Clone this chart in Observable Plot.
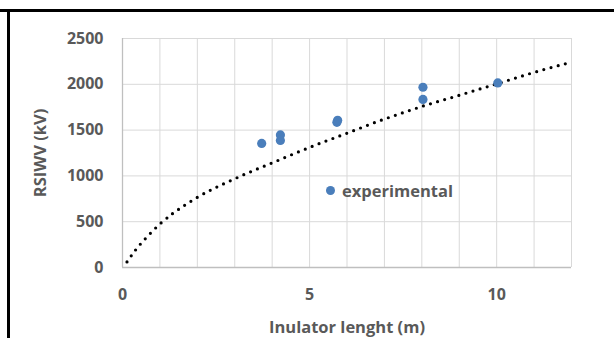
<!DOCTYPE html>
<html><head><meta charset="utf-8">
<script src="https://cdn.jsdelivr.net/npm/d3@7"></script>
<script src="https://cdn.jsdelivr.net/npm/@observablehq/plot@0.6"></script>
<style>
body{margin:0;background:#fff;}
#wrap{position:relative;width:614px;height:338px;overflow:hidden;font-family:"Open Sans",sans-serif;}
.hline{position:absolute;left:0;top:9px;width:614px;height:3px;background:#000;}
.vline{position:absolute;left:7px;top:9px;width:3px;height:329px;background:#000;}
#legend{position:absolute;left:326px;top:179px;height:22px;display:flex;align-items:center;gap:7px;font-weight:bold;font-size:16.5px;color:#595959;white-space:nowrap;}
#legend .mk{width:9px;height:9px;border-radius:50%;background:#4a7ebb;}
svg{position:absolute;left:0;top:0;}
</style></head>
<body>
<div id="wrap"><div class="hline"></div><div class="vline"></div></div>
<script>
// experimental points
const expX = [3.72, 4.22, 4.22, 5.73, 5.75, 8.03, 8.03, 10.03];
const expY = [1355, 1447, 1387, 1585, 1607, 1968, 1835, 2015];
// fitted (dotted) curve
const fitX = [0.12, 0.3, 0.5, 0.75, 1.0, 1.25, 1.5, 2.0, 2.5, 3.0, 3.5, 4.0, 4.5, 5.0, 5.5, 6.0, 6.5, 7.0, 7.5, 8.0, 8.5, 9.0, 9.5, 10.0, 10.5, 11.0, 11.5, 11.9];
const fitY = [61, 165, 265, 375, 475, 560, 635, 766, 874, 969, 1058, 1142, 1228, 1311, 1390, 1466, 1545, 1620, 1690, 1758, 1820, 1880, 1943, 2004, 2068, 2130, 2188, 2230];
const xGridTicks = [0,1,2,3,4,5,6,7,8,9,10,11,12];
const xTickLabels = [0, 5, 10];
const yTicks = [0, 500, 1000, 1500, 2000, 2500];
const xLabel = "Inulator lenght (m)";
const yLabel = "RSIWV (kV)";
const legendLabel = "experimental";

const exp = expX.map((x, i) => ({x, y: expY[i]}));
const fit = fitX.map((x, i) => ({x, y: fitY[i]}));

const chart = Plot.plot({
  width: 614, height: 338,
  marginLeft: 122, marginRight: 43, marginTop: 38, marginBottom: 71,
  style: {fontFamily: "'Open Sans', sans-serif", fontSize: "16px", color: "#595959", background: "transparent", overflow: "visible"},
  x: {domain: [0, 12]},
  y: {domain: [0, 2500]},
  marks: [
    Plot.gridX(xGridTicks, {stroke: "#d9d9d9", strokeOpacity: 1}),
    Plot.gridY(yTicks, {stroke: "#d9d9d9", strokeOpacity: 1}),
    Plot.ruleX([0], {stroke: "#bfbfbf", strokeWidth: 1.3}),
    Plot.ruleY([0], {stroke: "#bfbfbf", strokeWidth: 1.3}),
    Plot.axisX(xTickLabels, {tickSize: 0, tickPadding: 21, fontWeight: "bold", fill: "#595959", tickFormat: d => String(d),
      label: xLabel, labelAnchor: "center", labelOffset: 65}),
    Plot.axisY(yTicks, {tickSize: 0, tickPadding: 19, fontWeight: "bold", fill: "#595959", tickFormat: d => String(d),
      label: yLabel, labelAnchor: "center", labelOffset: 88}),
    Plot.line(fit, {x: "x", y: "y", stroke: "#000", strokeWidth: 3.2, strokeDasharray: "0 7.4", strokeLinecap: "round", curve: "natural"}),
    Plot.dot(exp, {x: "x", y: "y", r: 4.6, fill: "#4a7ebb"})
  ]
});
const xl = d3.select(chart).select("[aria-label='x-axis label'] text");
xl.text(xLabel);
const yl = d3.select(chart).select("[aria-label='y-axis label'] text");
yl.text(yLabel);
d3.select(chart).selectAll("[aria-label='x-axis label'] text, [aria-label='y-axis label'] text")
  .attr("font-weight", "bold").attr("font-size", "16.5px").attr("fill", "#595959");
const wrap = document.getElementById("wrap");
wrap.insertBefore(chart, wrap.firstChild);
const lg = document.createElement("div");
lg.id = "legend";
lg.innerHTML = '<span class="mk"></span><span>' + legendLabel + '</span>';
wrap.appendChild(lg);
</script>
</body></html>
